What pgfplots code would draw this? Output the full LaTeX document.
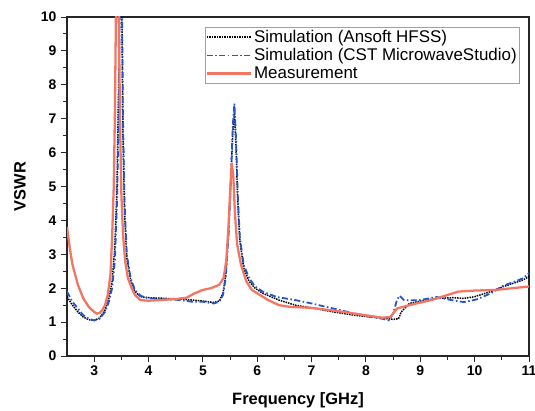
\documentclass[border=0pt]{standalone}
\usepackage{pgfplots}
\pgfplotsset{compat=1.18}
\usepackage{fontspec}
\setmainfont{Liberation Sans}
\definecolor{cstblue}{RGB}{35,85,205}
\definecolor{measred}{RGB}{242,118,98}
\definecolor{legframe}{RGB}{140,165,190}
\begin{document}
\begin{tikzpicture}
\begin{axis}[
  scale only axis,
  width=462bp, height=339bp,
  xmin=2.5, xmax=11, ymin=0, ymax=10,
  xtick={3,4,5,6,7,8,9,10,11},
  xticklabels={\textbf{3},\textbf{4},\textbf{5},\textbf{6},\textbf{7},\textbf{8},\textbf{9},\textbf{10},\textbf{11}},
  ytick={0,1,2,3,4,5,6,7,8,9,10},
  yticklabels={\textbf{0},\textbf{1},\textbf{2},\textbf{3},\textbf{4},\textbf{5},\textbf{6},\textbf{7},\textbf{8},\textbf{9},\textbf{10}},
  minor tick num=1,
  tick align=outside,
  xtick pos=lower, ytick pos=left,
  major tick length=6bp, minor tick length=3.5bp,
  axis line style={line width=1.1pt, black!85},
  every tick/.style={black!85, line width=0.9pt},
  ticklabel style={font=\fontsize{14}{16}\selectfont\bfseries},
  yticklabel style={xshift=-1bp},
  xlabel={Frequency [GHz]},
  ylabel={VSWR},
  label style={font=\fontsize{16.5}{18}\selectfont\bfseries},
  xlabel style={at={(axis description cs:0.5,-0.1298)}, anchor=center},
  ylabel style={at={(axis description cs:-0.1017,0.5)}, anchor=center},
  legend style={at={(0.9805,0.9705)}, anchor=north east, draw=legframe, line width=0.6pt,
    font=\fontsize{17}{19}\selectfont, row sep=0.5pt, inner sep=1pt},
  legend cell align=left,
  legend image code/.code={\draw[#1] (0bp,0bp) -- (44bp,0bp);},
]
\addplot[black, densely dotted, line width=1.5pt] coordinates {
(2.5,1.75) (2.6,1.5) (2.7,1.3) (2.8,1.15) (2.9,1.07) (3.0,1.05) (3.1,1.12) (3.2,1.35) (3.27,1.7) (3.33,2.2) (3.38,3.2) (3.42,5) (3.45,8) (3.47,11) (3.49,13) (3.51,10) (3.53,6.5) (3.56,4.2) (3.6,2.9) (3.67,2.25) (3.75,1.9) (3.85,1.75) (4.0,1.72) (4.3,1.7) (4.6,1.68) (4.8,1.65) (5.0,1.62) (5.2,1.58) (5.3,1.62) (5.37,1.85) (5.42,2.4) (5.47,3.6) (5.51,5) (5.55,6.6) (5.58,7.2) (5.61,6.2) (5.64,4.6) (5.68,3.4) (5.75,2.6) (5.85,2.2) (5.96,2.0) (6.1,1.85) (6.4,1.65) (6.7,1.5) (7.0,1.42) (7.4,1.3) (7.8,1.2) (8.1,1.15) (8.3,1.12) (8.5,1.08) (8.6,1.1) (8.65,1.3) (8.8,1.55) (9.0,1.62) (9.3,1.7) (9.6,1.72) (9.8,1.7) (10.0,1.75) (10.3,1.9) (10.53,2.05) (10.72,2.15) (10.9,2.25) (11,2.35)
};
\addlegendentry{Simulation (Ansoft HFSS)}
\addplot[cstblue, dash pattern=on 6pt off 2.5pt on 1.5pt off 2.5pt, line width=1.8pt] coordinates {
(2.5,1.9) (2.6,1.6) (2.7,1.4) (2.8,1.2) (2.9,1.1) (3.0,1.05) (3.1,1.1) (3.2,1.3) (3.27,1.6) (3.33,2.0) (3.38,2.8) (3.42,4.5) (3.45,7) (3.47,10) (3.49,13) (3.51,11) (3.53,7) (3.56,4.5) (3.6,3.0) (3.67,2.3) (3.75,1.95) (3.85,1.78) (4.0,1.7) (4.3,1.68) (4.6,1.65) (4.8,1.6) (5.0,1.6) (5.2,1.55) (5.3,1.6) (5.37,1.8) (5.42,2.3) (5.47,3.5) (5.51,5) (5.55,6.8) (5.58,7.45) (5.61,6.4) (5.64,4.8) (5.68,3.5) (5.75,2.7) (5.85,2.3) (5.96,2.05) (6.1,1.9) (6.36,1.74) (6.7,1.65) (7.0,1.55) (7.4,1.4) (7.8,1.25) (8.1,1.15) (8.3,1.1) (8.42,1.05) (8.5,1.25) (8.57,1.65) (8.62,1.78) (8.7,1.65) (8.96,1.64) (9.3,1.74) (9.6,1.64) (9.8,1.59) (10.04,1.67) (10.3,1.85) (10.53,2.08) (10.72,2.18) (10.9,2.3) (11,2.45)
};
\addlegendentry{Simulation (CST MicrowaveStudio)}
\addplot[measred, line width=2.3pt] coordinates {
(2.5,3.8) (2.55,3.2) (2.6,2.7) (2.7,2.1) (2.8,1.7) (2.9,1.45) (3.0,1.3) (3.05,1.25) (3.1,1.27) (3.15,1.35) (3.2,1.5) (3.25,1.8) (3.3,2.4) (3.33,3.5) (3.36,5) (3.38,7) (3.40,10) (3.42,13) (3.44,12) (3.46,9) (3.48,6.5) (3.5,4.8) (3.53,3.6) (3.57,2.8) (3.62,2.3) (3.69,2.0) (3.75,1.8) (3.85,1.65) (4.0,1.63) (4.2,1.65) (4.5,1.68) (4.7,1.72) (4.85,1.85) (5.0,1.95) (5.15,2.0) (5.3,2.1) (5.38,2.3) (5.43,2.8) (5.47,3.8) (5.5,4.8) (5.53,5.7) (5.56,5.3) (5.59,4.2) (5.63,3.3) (5.7,2.7) (5.8,2.2) (5.9,1.95) (6.0,1.85) (6.2,1.65) (6.4,1.5) (6.6,1.45) (7.0,1.42) (7.5,1.32) (8.0,1.2) (8.3,1.13) (8.45,1.15) (8.57,1.4) (8.8,1.5) (9.2,1.65) (9.5,1.8) (9.7,1.9) (10.0,1.93) (10.4,1.95) (10.7,2.0) (11,2.05)
};
\addlegendentry{Measurement}
\end{axis}
\pgfresetboundingbox
\path[use as bounding box] ([xshift=-67bp,yshift=-55bp]current axis.south west) rectangle ([xshift=6bp,yshift=17bp]current axis.north east);
\end{tikzpicture}
\end{document}
